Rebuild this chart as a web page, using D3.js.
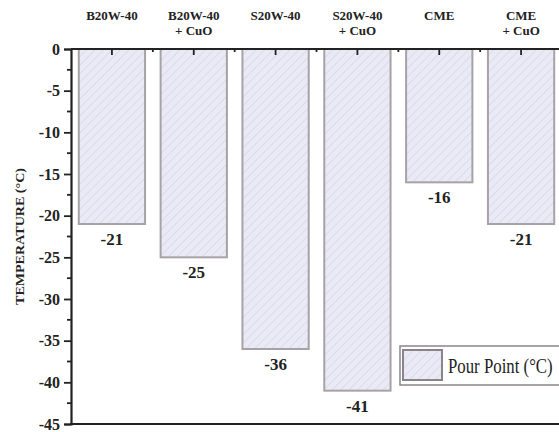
<!DOCTYPE html>
<html>
<head>
<meta charset="utf-8">
<script src="https://cdn.jsdelivr.net/npm/d3@7"></script>
<style>
  body { margin: 0; background: #fff; }
  svg text { font-family: "Liberation Serif", "Times New Roman", serif; }
</style>
</head>
<body>
<div id="chart"></div>
<script>
// Pour point of lubricant samples
const categories = ["B20W-40", "B20W-40 + CuO", "S20W-40", "S20W-40 + CuO", "CME", "CME + CuO"];
const labelLines = [["B20W-40"], ["B20W-40", "+ CuO"], ["S20W-40"], ["S20W-40", "+ CuO"], ["CME"], ["CME", "+ CuO"]];
const pourPoint  = [-21, -25, -36, -41, -16, -21];
const yTicks     = [0, -5, -10, -15, -20, -25, -30, -35, -40, -45];

const width = 559, height = 432;
const margin = { top: 49, right: -3, bottom: 8, left: 71 };

const svg = d3.select("#chart").append("svg")
  .attr("width", width)
  .attr("height", height);

const x = d3.scaleBand()
  .domain(categories)
  .range([margin.left, width - margin.right])
  .paddingInner(0.19)
  .paddingOuter(0.095);

const y = d3.scaleLinear()
  .domain([0, -45])
  .range([margin.top, height - margin.bottom]);

// hatch pattern for bars
const defs = svg.append("defs");
const pat = defs.append("pattern")
  .attr("id", "hatch")
  .attr("patternUnits", "userSpaceOnUse")
  .attr("width", 6).attr("height", 6)
  .attr("patternTransform", "rotate(45)");
pat.append("rect").attr("width", 6).attr("height", 6).attr("fill", "#eaeaf7");
pat.append("line")
  .attr("x1", 0).attr("y1", 0).attr("x2", 0).attr("y2", 6)
  .attr("stroke", "#cfcfe0").attr("stroke-width", 1.2);

// ── Bars ──────────────────────────────────────────────
svg.selectAll(".bar")
  .data(pourPoint)
  .join("rect")
  .attr("class", "bar")
  .attr("x", (d, i) => x(categories[i]))
  .attr("y", y(0))
  .attr("width", x.bandwidth())
  .attr("height", d => y(d) - y(0))
  .attr("fill", "url(#hatch)")
  .attr("stroke", "#a8a2a6")
  .attr("stroke-width", 2);

// value labels under bars
svg.selectAll(".val")
  .data(pourPoint)
  .join("text")
  .attr("class", "val")
  .attr("x", (d, i) => x(categories[i]) + x.bandwidth() / 2)
  .attr("y", d => y(d) + 21)
  .attr("text-anchor", "middle")
  .style("font-weight", "bold")
  .style("font-size", "17px")
  .attr("fill", "#222")
  .text(d => d);

// ── Left axis ─────────────────────────────────────────
const yAxis = svg.append("g")
  .attr("transform", `translate(${margin.left},0)`)
  .call(d3.axisLeft(y).tickValues(yTicks).tickSize(7).tickPadding(4).tickFormat(d => String(d)));
yAxis.select(".domain").attr("stroke", "#222").attr("stroke-width", 2.2);
yAxis.selectAll(".tick line").attr("stroke", "#222").attr("stroke-width", 1.8);
yAxis.selectAll("text")
  .style("font-family", "'Liberation Serif', serif")
  .style("font-weight", "bold")
  .style("font-size", "16px")
  .attr("fill", "#222");

// minor ticks
const minor = d3.range(-2.5, -45, -5);
svg.append("g").selectAll("line")
  .data(minor)
  .join("line")
  .attr("x1", margin.left - 4).attr("x2", margin.left)
  .attr("y1", d => y(d)).attr("y2", d => y(d))
  .attr("stroke", "#222").attr("stroke-width", 1.8);

// ── Top axis ──────────────────────────────────────────
svg.append("line")
  .attr("x1", margin.left).attr("x2", width)
  .attr("y1", y(0)).attr("y2", y(0))
  .attr("stroke", "#222").attr("stroke-width", 2.2);

svg.append("g").selectAll("line")
  .data(categories)
  .join("line")
  .attr("x1", d => x(d) + x.bandwidth() / 2).attr("x2", d => x(d) + x.bandwidth() / 2)
  .attr("y1", y(0)).attr("y2", y(0) + 6)
  .attr("stroke", "#222").attr("stroke-width", 1.8);

// boundary ticks between categories
svg.append("g").selectAll("line")
  .data(categories.slice(1))
  .join("line")
  .attr("x1", d => x(d) - x.step() * x.paddingInner() / 2)
  .attr("x2", d => x(d) - x.step() * x.paddingInner() / 2)
  .attr("y1", y(0)).attr("y2", y(0) + 3)
  .attr("stroke", "#222").attr("stroke-width", 1.8);

// category labels above
const catLabels = svg.append("g").selectAll("text")
  .data(labelLines)
  .join("text")
  .attr("x", (d, i) => x(categories[i]) + x.bandwidth() / 2)
  .attr("y", 20)
  .attr("text-anchor", "middle")
  .style("font-weight", "bold")
  .style("font-size", "13px")
  .attr("fill", "#222");
catLabels.each(function(lines) {
  const t = d3.select(this);
  const cx = t.attr("x");
  lines.forEach((ln, j) => {
    t.append("tspan").attr("x", cx).attr("dy", j === 0 ? 0 : 15).text(ln);
  });
});

// ── Bottom axis ───────────────────────────────────────
svg.append("line")
  .attr("x1", margin.left - 1).attr("x2", width)
  .attr("y1", y(-45)).attr("y2", y(-45))
  .attr("stroke", "#222").attr("stroke-width", 2.2);

// y axis title
svg.append("text")
  .attr("transform", `translate(24,${(y(0) + y(-45)) / 2}) rotate(-90)`)
  .attr("text-anchor", "middle")
  .style("font-weight", "bold")
  .style("font-size", "13px")
  .attr("textLength", 137)
  .attr("lengthAdjust", "spacingAndGlyphs")
  .attr("fill", "#222")
  .text("TEMPERATURE (°C)");

// ── Legend ────────────────────────────────────────────
const legend = svg.append("g").attr("transform", "translate(400,346)");
legend.append("rect")
  .attr("width", 170).attr("height", 39)
  .attr("fill", "#fff")
  .attr("stroke", "#8a8488").attr("stroke-width", 1.5);
legend.append("rect")
  .attr("x", 3).attr("y", 4)
  .attr("width", 39).attr("height", 30)
  .attr("fill", "url(#hatch)")
  .attr("stroke", "#8a8488").attr("stroke-width", 2);
legend.append("text")
  .attr("transform", "translate(48,27) scale(0.84,1)")
  .style("font-size", "20px")
  .attr("fill", "#222")
  .text("Pour Point (°C)");
</script>
</body>
</html>
